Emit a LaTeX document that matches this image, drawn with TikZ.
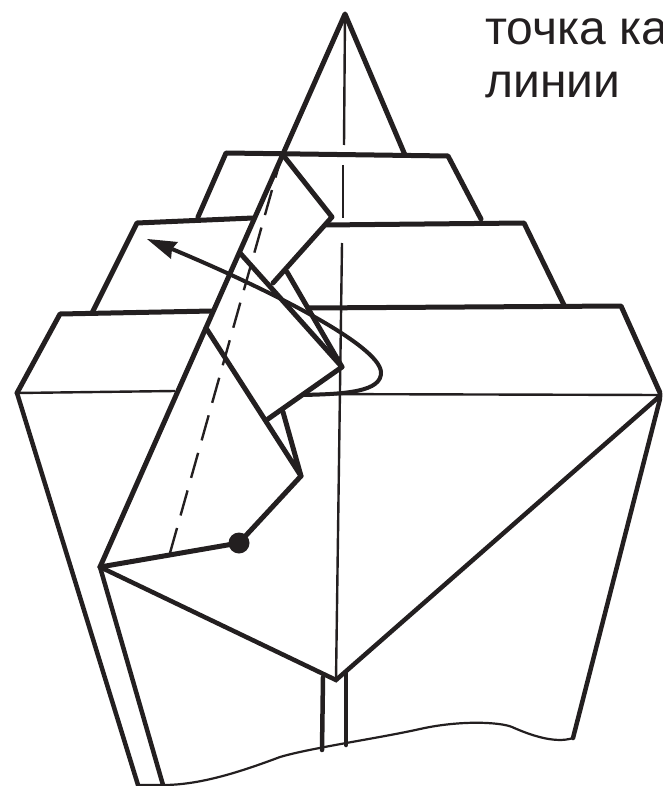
\documentclass[tikz,border=0pt]{standalone}
\usepackage{fontspec}
\setmainfont{Liberation Sans}
\usetikzlibrary{arrows.meta}
\definecolor{ink}{HTML}{231F20}
\tikzset{
  thickline/.style={draw=ink,line width=5pt,line cap=round,line join=round},
  midline/.style={draw=ink,line width=4.5pt,line cap=round},
  thinline/.style={draw=ink,line width=2.4pt},
  curveline/.style={draw=ink,line width=2.2pt,line join=round},
  dashline/.style={draw=ink,line width=2.4pt,dash pattern=on 26pt off 13pt},
  caption/.style={anchor=base west,inner sep=0pt,text=ink,font=\fontsize{48}{48}\selectfont}
}
\begin{document}
\begin{tikzpicture}[x=1pt,y=-1pt]
\useasboundingbox (0,0) rectangle (662,786);
\clip (0,0) rectangle (662,786);
\coordinate (apex) at (345,14);
\coordinate (P) at (100,567);
\coordinate (dot) at (239,543);
\coordinate (knee) at (301,476);
\coordinate (L) at (17,393);
\coordinate (R) at (661,395);
\coordinate (B) at (336,680);
\node[caption] (t1) at (485,45) {точка ка};
\node[caption] (t2) at (485,98) {линии};
% thin
\draw[thinline] (apex) -- (344,145);
\draw[thinline] (343,165) -- (343,218);
\draw[thinline] (342,243) -- (B);
\draw[thinline] (L) -- (175,391);
\draw[thinline] (303,394) -- (R);
\draw[dashline] (170,553) -- (279,165);
% tiers
\draw[thickline] (198,217) -- (226,153) -- (448,156) -- (481,219);
\draw[thickline] (92,313) -- (137,223) -- (253,218);
\draw[thickline] (325,225) -- (524,223) -- (564,305);
\draw[thickline] (L) -- (60,314) -- (212,311);
\draw[thickline] (308,308) -- (621,306) -- (R);
% apex and main fold
\draw[thickline] (P) -- (apex) -- (405,155);
% flaps
\draw[thickline] (283,155) -- (332,217) -- (273,283);
\draw[thickline] (240,253) -- (342,367) -- (268,419);
\draw[thickline] (287,272) -- (342,367);
\draw[thickline] (206,328) -- (knee) -- (283,412);
\draw[thickline] (P) -- (dot) -- (knee);
\fill[ink] (dot) circle (10.5);
% lower body
\draw[midline] (L) -- (138,785);
\draw[midline] (P) -- (163,785);
\draw[midline] (P) -- (B) -- (R);
\draw[midline] (323,677) -- (322,750);
\draw[midline] (346,673) -- (346,745);
\draw[midline] (R) -- (573,738);
\draw[curveline] (138,785) -- (163,785) .. controls (200,785) and (240,772) .. (280,757) .. controls (310,748) and (380,738) .. (420,729) .. controls (460,720) and (500,722) .. (512,727) .. controls (530,735) and (555,744) .. (573,738);
% arrow
\draw[draw=ink,line width=4pt] (303,395) .. controls (345,394) and (382,392) .. (381,372) .. controls (379,345) and (270,290) .. (172,249);
\fill[ink] (147,239) -- (178,242) -- (172,249) -- (171,259) -- cycle;
\end{tikzpicture}
\end{document}
